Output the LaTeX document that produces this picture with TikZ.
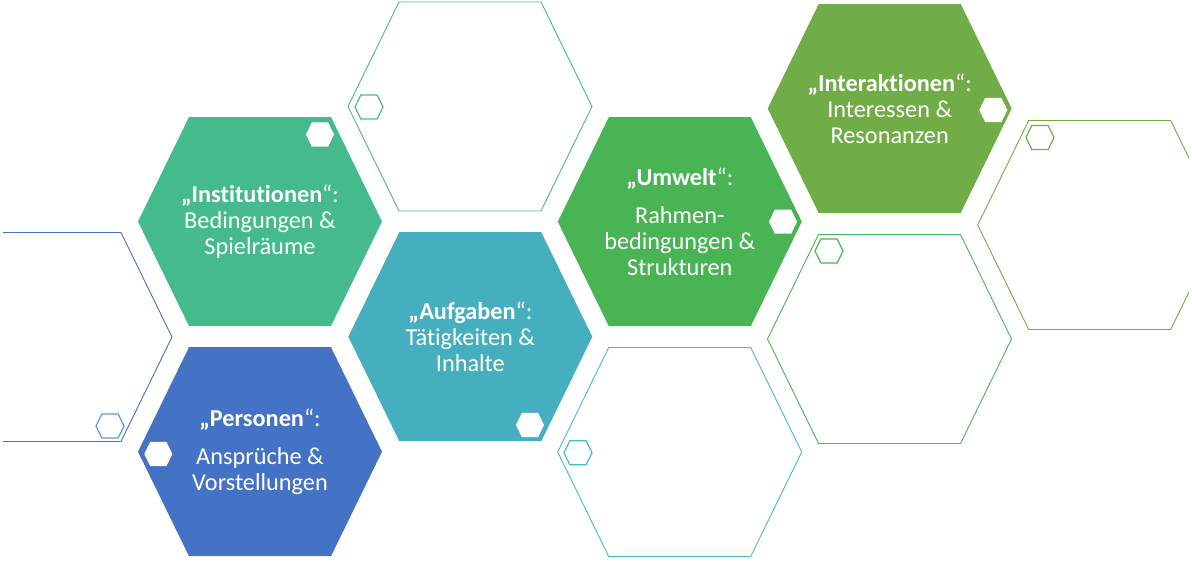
\documentclass[tikz,border=0pt]{standalone}
\usepackage{fontspec}
\setmainfont{Carlito}[Ligatures=CommonOff]
\usepackage{tikz}

\definecolor{instgreen}{RGB}{69,187,141}
\definecolor{persblue}{RGB}{68,114,196}
\definecolor{aufgteal}{RGB}{69,175,192}
\definecolor{umwgreen}{RGB}{73,180,84}
\definecolor{intergreen}{RGB}{112,173,71}
\definecolor{lightblue}{RGB}{91,155,213}
\definecolor{outteal}{RGB}{75,185,200}

\tikzset{
  pics/hexa/.style={
    code={
      \path[pic actions] (-122,0) -- (-71,-104.5) -- (71,-104.5) -- (122,0)
        -- (71,104.5) -- (-71,104.5) -- cycle;
    }
  }
}

\begin{document}
\begin{tikzpicture}[x=1pt, y=-1pt,
    hexlabel/.style={text=white, align=center, inner sep=0pt,
      font=\fontsize{24.3}{26}\selectfont},
    small/.style={scale=0.115},
    outline/.style={draw=#1, line width=0.9pt},
    smalline/.style={draw=#1, line width=1.2pt}]
    \useasboundingbox (0,0) rectangle (1192,563);

    \begin{scope}
    \clip (3,0) rectangle (1189,563);

    % Filled hexagons
    \pic[fill=instgreen] at (260,221.5) {hexa};
    \pic[fill=persblue] at (260,451.7) {hexa};
    \pic[fill=aufgteal] at (470.3,336.7) {hexa};
    \pic[fill=umwgreen] at (679.8,221.7) {hexa};
    \pic[fill=intergreen] at (889.7,108.5) {hexa};

    % Small white hexagons on top
    \pic[small, fill=white] at (320,134.5) {hexa};
    \pic[small, fill=white] at (158.3,454) {hexa};
    \pic[small, fill=white] at (530,425) {hexa};
    \pic[small, fill=white] at (783,221.7) {hexa};
    \pic[small, fill=white] at (993.3,110) {hexa};

    % Empty hexagons
    \pic[outline=instgreen] at (470,106.5) {hexa};
    \pic[outline=persblue] at (50,337) {hexa};
    \pic[outline=outteal] at (679.7,452) {hexa};
    \pic[outline=umwgreen] at (889.5,339) {hexa};
    \pic[outline=intergreen] at (1099.7,225) {hexa};

    \pic[small, smalline=instgreen] at (369,107) {hexa};
    \pic[small, smalline=lightblue] at (110,426) {hexa};
    \pic[small, smalline=outteal] at (578,452.7) {hexa};
    \pic[small, smalline=umwgreen] at (829,251) {hexa};
    \pic[small, smalline=intergreen] at (1040,137.5) {hexa};
    \end{scope}

    % Labels
    \node[hexlabel] (inst) at (260,221.5)
      {\textbf{„Institutionen}“:\\Bedingungen \&\\Spielräume};
    \node[hexlabel] (pers) at (260,452)
      {\textbf{„Personen}“:\\[12pt]Ansprüche \&\\Vorstellungen};
    \node[hexlabel] (aufg) at (470.3,336.7)
      {\textbf{„Aufgaben}“:\\Tätigkeiten \&\\Inhalte};
    \node[hexlabel] (umw) at (679.8,221.7)
      {\textbf{„Umwelt}“:\\[12pt]Rahmen-\\bedingungen \&\\Strukturen};
    \node[hexlabel] (inter) at (889.7,108.5)
      {\textbf{„Interaktionen}“:\\Interessen \&\\Resonanzen};
\end{tikzpicture}
\end{document}
